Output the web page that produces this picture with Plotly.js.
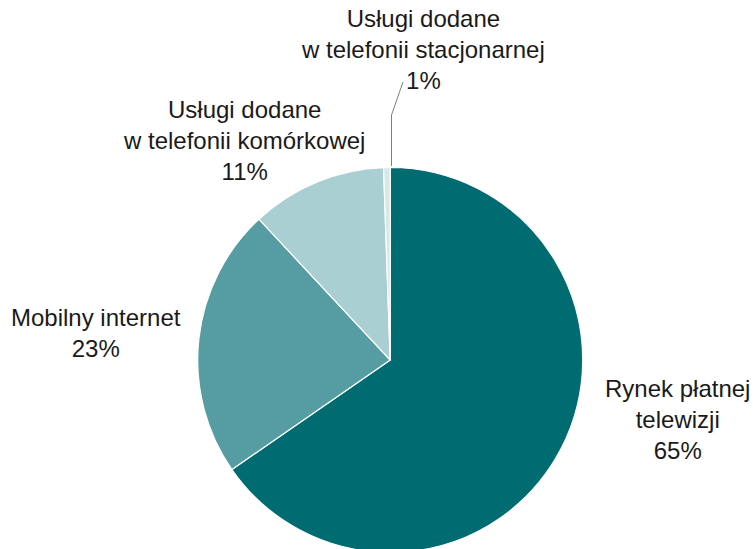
<!DOCTYPE html>
<html>
<head>
<meta charset="utf-8">
<script src="https://cdn.plot.ly/plotly-3.0.1.min.js"></script>
<style>html,body{margin:0;padding:0;background:#fff;overflow:hidden}</style>
</head>
<body>
<div id="chart" style="width:753px;height:556px"></div>
<script>
const categories = [
  'Rynek płatnej<br>telewizji',
  'Mobilny internet',
  'Usługi dodane<br>w telefonii komórkowej',
  'Usługi dodane<br>w telefonii stacjonarnej'
];
const values = [65.4, 22.7, 11.4, 0.55];
const pctLabels = ['65%', '23%', '11%', '1%'];
const colors = ['#006C72', '#559DA2', '#AACFD3', '#D5E8EA'];

const H = 556;
const labelPos = [
  {x: 677, y: 419},
  {x: 96, y: 333},
  {x: 244, y: 140},
  {x: 423, y: 49}
];

const annotations = categories.map((c, i) => ({
  text: c + '<br>' + pctLabels[i],
  x: labelPos[i].x / 753, y: 1 - labelPos[i].y / H,
  xref: 'paper', yref: 'paper',
  xanchor: 'center', yanchor: 'middle',
  showarrow: false,
  align: 'center',
  font: {family: 'Liberation Sans, Arial, sans-serif', size: 24, color: '#1a1a1a'}
}));

const data = [{
  type: 'pie',
  labels: categories,
  values: values,
  sort: false,
  direction: 'clockwise',
  rotation: 0,
  textinfo: 'none',
  hoverinfo: 'none',
  marker: {colors: colors, line: {color: '#ffffff', width: 1.2}},
  domain: {x: [197.7/753, 582.7/753], y: [3.5/H, 388.5/H]},
  showlegend: false
}];

const layout = {
  width: 753, height: H,
  margin: {l: 0, r: 0, t: 0, b: 0},
  paper_bgcolor: '#ffffff',
  showlegend: false,
  annotations: annotations,
  shapes: [
    {type: 'line', xref: 'paper', yref: 'paper', x0: 391.5/753, y0: 1 - 166/H, x1: 391.5/753, y1: 1 - 115/H, line: {color: '#7f7f7f', width: 1}},
    {type: 'line', xref: 'paper', yref: 'paper', x0: 391.5/753, y0: 1 - 115/H, x1: 403/753, y1: 1 - 82/H, line: {color: '#7f7f7f', width: 1}}
  ]
};

Plotly.newPlot('chart', data, layout, {displayModeBar: false, staticPlot: true});
</script>
</body>
</html>
